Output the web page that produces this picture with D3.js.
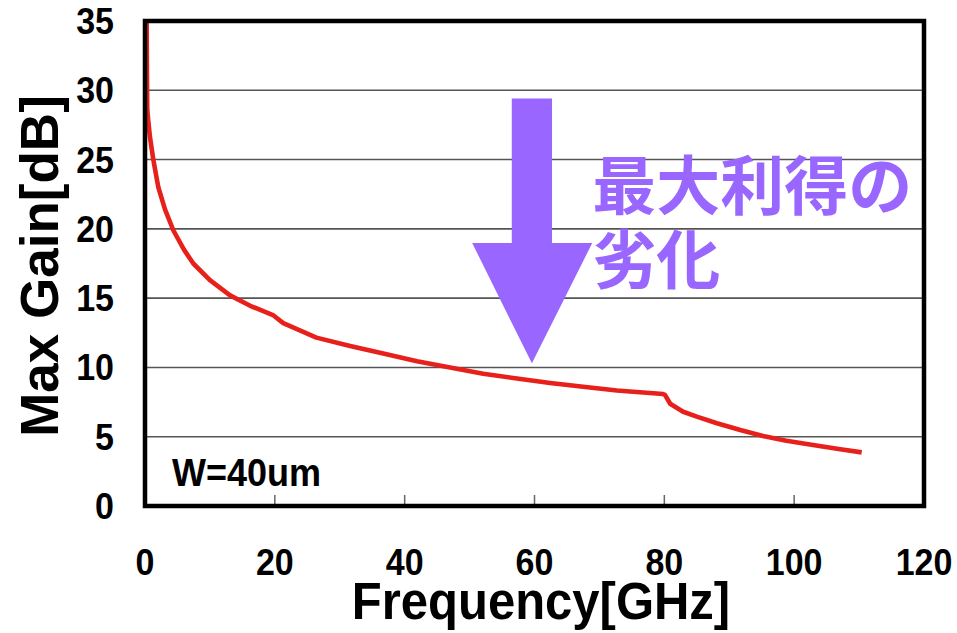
<!DOCTYPE html>
<html><head><meta charset="utf-8">
<script src="https://cdn.jsdelivr.net/npm/d3@7"></script>
<style>
html,body{margin:0;padding:0;background:#fff;}
svg{display:block;font-family:"Liberation Sans",Arial,sans-serif;}
</style></head>
<body>
<svg id="chart" width="957" height="633"></svg>
<script>
// ---- data ----
const freq = [0.12, 0.25, 0.3, 0.35, 0.5, 0.77, 1.28, 2.05, 3.08, 4.36, 6.0, 7.44, 10.0, 13.1, 16.2, 19.8, 21.3, 26.4, 31.6, 36.7, 41.9, 47.0, 52.1, 57.3, 62.4, 67.5, 72.7, 79.8, 80.1, 80.9, 82.9, 85.0, 88.1, 91.7, 95.2, 98.8, 102.9, 107.1, 110.4];
const gain = [38.0, 35.0, 31.0, 28.6, 27.8, 26.6, 25.0, 23.0, 21.4, 19.9, 18.5, 17.5, 16.3, 15.2, 14.45, 13.75, 13.2, 12.15, 11.55, 11.0, 10.45, 10.0, 9.55, 9.2, 8.88, 8.6, 8.34, 8.08, 8.02, 7.38, 6.8, 6.45, 5.97, 5.48, 5.05, 4.71, 4.4, 4.09, 3.87];
const xTicks = [0, 20, 40, 60, 80, 100, 120];
const yTicks = [0, 5, 10, 15, 20, 25, 30, 35];
const xTitle = "Frequency[GHz]";
const yTitle = "Max Gain[dB]";
const note = "W=40um";
const annotLines = ["最大利得の", "劣化"];
// arrow outline in data units (freq, gain)
const arrowF = [56.5, 62.7, 62.7, 68.9, 59.6, 50.4, 56.5, 56.5];
const arrowG = [29.4, 29.4, 18.98, 18.98, 10.3, 18.98, 18.98, 29.4];

// ---- layout ----
const svg = d3.select("#chart");
const L = 145, R = 924, T = 21, B = 506;
const x = d3.scaleLinear().domain([0, 120]).range([L, R]);
const y = d3.scaleLinear().domain([0, 35]).range([B, T]);
const SY = 1.07; // glyphs in the reference are slightly taller than wide

// gridlines
svg.append("g").selectAll("line").data(yTicks.filter(d => d > 0 && d < 35)).join("line")
  .attr("x1", L).attr("x2", R).attr("y1", d => y(d)).attr("y2", d => y(d))
  .attr("stroke", "#555").attr("stroke-width", 1.6);

// x ticks inside (pointing up)
svg.append("g").selectAll("line").data(xTicks.filter(d => d > 0 && d < 120)).join("line")
  .attr("x1", d => x(d)).attr("x2", d => x(d)).attr("y1", B).attr("y2", B - 11)
  .attr("stroke", "#666").attr("stroke-width", 1.5);

// arrow
svg.append("polygon")
  .attr("points", arrowF.map((f, i) => [x(f), y(arrowG[i])].join(",")).join(" "))
  .attr("fill", "#9966ff");

// annotation text
const at = svg.append("text")
  .attr("font-family", "'Noto Sans CJK JP','Noto Sans CJK SC',sans-serif")
  .attr("font-weight", "bold").attr("font-size", 64).attr("fill", "#9966ff");
annotLines.forEach((t, i) => {
  at.append("tspan").attr("x", x(68.9)).attr("y", y(21.4) + i * 74).text(t);
});

// curve
svg.append("clipPath").attr("id", "clip").append("rect")
  .attr("x", L).attr("y", T).attr("width", R - L).attr("height", B - T);
const line = d3.line().x(d => x(d[0])).y(d => y(d[1]));
svg.append("path").datum(freq.map((f, i) => [f, gain[i]]))
  .attr("clip-path", "url(#clip)")
  .attr("d", line).attr("fill", "none").attr("stroke", "#e8201c")
  .attr("stroke-width", 4.6).attr("stroke-linejoin", "round");

// frame
svg.append("rect").attr("x", L).attr("y", T).attr("width", R - L).attr("height", B - T)
  .attr("fill", "none").attr("stroke", "#000").attr("stroke-width", 4.5);

// y tick labels
svg.append("g").selectAll("text").data(yTicks).join("text")
  .attr("transform", d => `translate(114,${y(d) + 13}) scale(1,${SY})`).attr("text-anchor", "end")
  .attr("font-size", 34).attr("font-weight", "bold").text(d => d);

// x tick labels
svg.append("g").selectAll("text").data(xTicks).join("text")
  .attr("transform", d => `translate(${x(d)},575) scale(1,${SY})`).attr("text-anchor", "middle")
  .attr("font-size", 34).attr("font-weight", "bold").text(d => d);

// titles
svg.append("text").attr("transform", `translate(541,619) scale(1,${SY})`).attr("text-anchor", "middle")
  .attr("font-size", 49).attr("font-weight", "bold").text(xTitle);
svg.append("text").attr("transform", "translate(58,266) rotate(-90)").attr("text-anchor", "middle")
  .attr("font-size", 53).attr("font-weight", "bold").text(yTitle);

// note
svg.append("text").attr("transform", `translate(172,486) scale(1,${SY})`)
  .attr("font-size", 36).attr("font-weight", "bold").text(note);
</script>
</body></html>
